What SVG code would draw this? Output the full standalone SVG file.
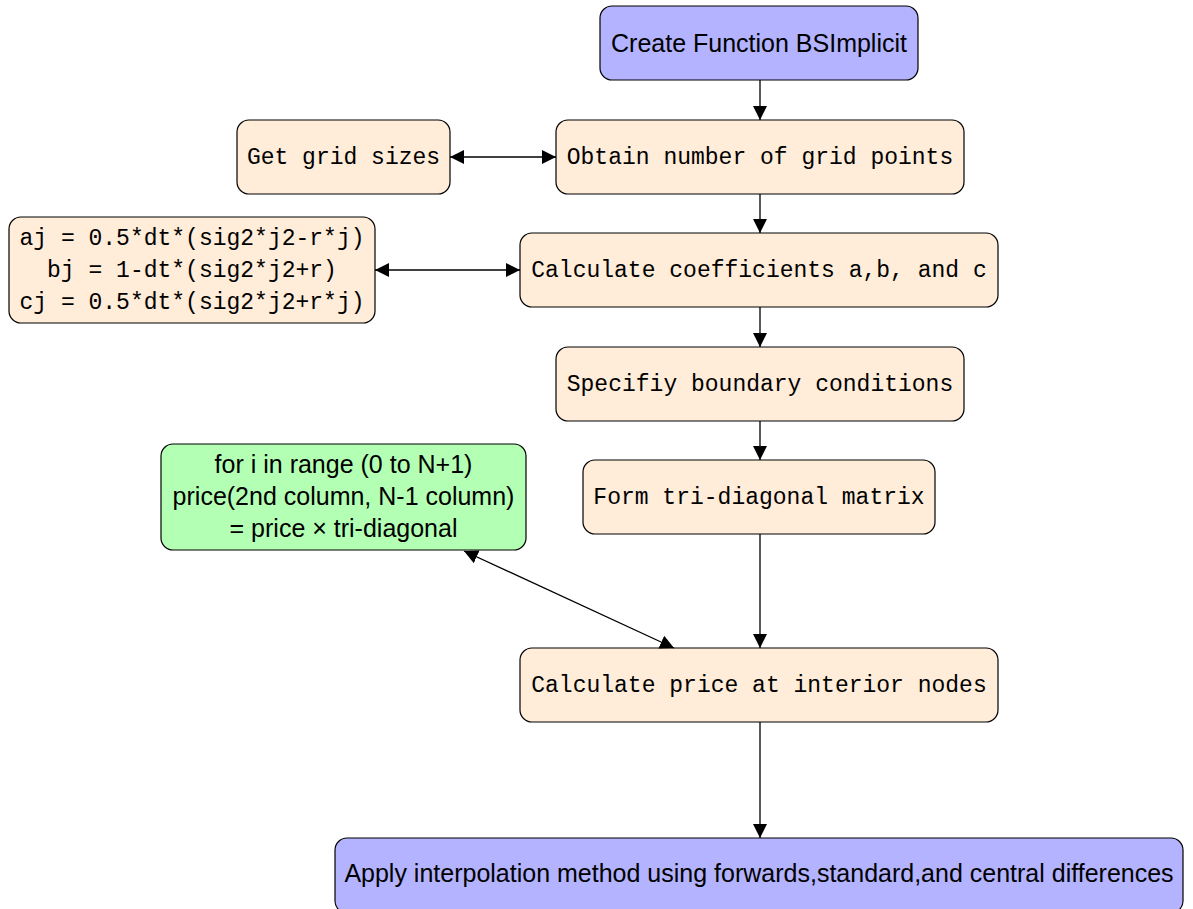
<svg xmlns="http://www.w3.org/2000/svg" width="1193" height="909" viewBox="0 0 1193 909">
<style>
.box{stroke:#000;stroke-width:1.2}
.blue{fill:#b3b3ff}
.orange{fill:#ffecd9}
.green{fill:#b3ffb3}
.mono{font-family:"Liberation Mono","DejaVu Sans Mono",monospace;font-size:23px;fill:#000;text-anchor:middle}
.sans{font-family:"Liberation Sans","DejaVu Sans",sans-serif;font-size:25px;fill:#000;text-anchor:middle}
.edge{stroke:#000;stroke-width:1.3;fill:none}
</style>
<defs>
<marker id="ahL" viewBox="0 0 14 14" refX="14" refY="7" markerWidth="14" markerHeight="14" markerUnits="userSpaceOnUse" orient="auto-start-reverse">
<path d="M0,0 L14,7 L0,14 z" fill="#000"/>
</marker>
</defs>
<g id="n1"><rect class="box blue" x="600" y="6" width="318" height="74" rx="12"/><text class="sans" x="759" y="52">Create Function BSImplicit</text></g>
<g id="n2"><rect class="box orange" x="237" y="120" width="213" height="74" rx="12"/><text class="mono" x="343.5" y="164">Get grid sizes</text></g>
<g id="n3"><rect class="box orange" x="556" y="120" width="408" height="74" rx="12"/><text class="mono" x="760" y="164">Obtain number of grid points</text></g>
<g id="n4"><rect class="box orange" x="9" y="217" width="366" height="106" rx="12"/>
<text class="mono" x="192" y="245">aj = 0.5*dt*(sig2*j2-r*j)</text>
<text class="mono" x="192" y="277">bj = 1-dt*(sig2*j2+r)</text>
<text class="mono" x="192" y="309">cj = 0.5*dt*(sig2*j2+r*j)</text></g>
<g id="n5"><rect class="box orange" x="520" y="233" width="478" height="74" rx="12"/><text class="mono" x="759" y="277">Calculate coefficients a,b, and c</text></g>
<g id="n6"><rect class="box orange" x="556" y="347" width="408" height="74" rx="12"/><text class="mono" x="760" y="391">Specifiy boundary conditions</text></g>
<g id="n7"><rect class="box green" x="161" y="444" width="365" height="106" rx="12"/>
<text class="sans" x="343.5" y="473">for i in range (0 to N+1)</text>
<text class="sans" x="343.5" y="505">price(2nd column, N-1 column)</text>
<text class="sans" x="343.5" y="537">= price × tri-diagonal</text></g>
<g id="n8"><rect class="box orange" x="583" y="460" width="352" height="74" rx="12"/><text class="mono" x="759" y="504">Form tri-diagonal matrix</text></g>
<g id="n9"><rect class="box orange" x="520" y="648" width="478" height="74" rx="12"/><text class="mono" x="759" y="692">Calculate price at interior nodes</text></g>
<g id="n10"><rect class="box blue" x="335" y="838" width="848" height="75" rx="12"/><text class="sans" x="759" y="882">Apply interpolation method using forwards,standard,and central differences</text></g>
<g id="connectors">
<line class="edge" x1="760" y1="80" x2="760" y2="120" marker-end="url(#ahL)"/>
<line class="edge" x1="760" y1="194" x2="760" y2="233" marker-end="url(#ahL)"/>
<line class="edge" x1="760" y1="307" x2="760" y2="347" marker-end="url(#ahL)"/>
<line class="edge" x1="760" y1="421" x2="760" y2="460" marker-end="url(#ahL)"/>
<line class="edge" x1="760" y1="534" x2="760" y2="648" marker-end="url(#ahL)"/>
<line class="edge" x1="760" y1="722" x2="760" y2="838" marker-end="url(#ahL)"/>
<line class="edge" x1="450" y1="157" x2="556" y2="157" marker-start="url(#ahL)" marker-end="url(#ahL)"/>
<line class="edge" x1="375" y1="270" x2="520" y2="270" marker-start="url(#ahL)" marker-end="url(#ahL)"/>
<line class="edge" x1="464" y1="551" x2="674" y2="648" marker-start="url(#ahL)" marker-end="url(#ahL)"/>
</g>
</svg>
